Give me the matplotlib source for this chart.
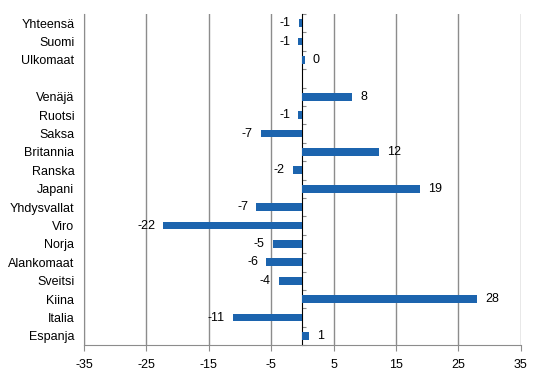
import matplotlib.pyplot as plt
import numpy as np

plt.rcParams["font.family"] = ["Liberation Sans", "DejaVu Sans"]
plt.rcParams["axes.unicode_minus"] = False

# maat ylhäältä alas, tyhjä rivi erottaa yhteenvedon
maat = ["Yhteensä", "Suomi", "Ulkomaat", "", "Venäjä", "Ruotsi", "Saksa",
        "Britannia", "Ranska", "Japani", "Yhdysvallat", "Viro", "Norja",
        "Alankomaat", "Sveitsi", "Kiina", "Italia", "Espanja"]
muutos = [-0.6, -0.7, 0.35, None, 8.0, -0.7, -6.7, 12.2, -1.6, 18.9,
          -7.4, -22.3, -4.8, -5.8, -3.8, 28.0, -11.2, 1.0]
x_ticks = [-35, -25, -15, -5, 5, 15, 25, 35]

grey = "#8c8c8c"
blue = "#1c64ae"
fs = 9

fig = plt.figure(figsize=(5.46, 3.76), dpi=100)
ax = fig.add_axes([0.154, 0.082, 0.800, 0.881])

y = np.arange(len(maat))
vals = [np.nan if v is None else v for v in muutos]
ax.barh(y, vals, height=0.42, color=blue, zorder=3)

for yi, v in zip(y, muutos):
    if v is None:
        continue
    if v >= 0:
        ax.text(v + 1.3, yi, f"{v:.0f}", va="center", ha="left", fontsize=fs)
    else:
        ax.text(v - 1.3, yi, f"{v:.0f}", va="center", ha="right", fontsize=fs)

ax.set_xlim(-35, 35)
ax.set_ylim(len(maat) - 0.5, -0.5)
ax.set_xticks(x_ticks)
ax.set_yticks(y)
ax.set_yticklabels(maat)
ax.tick_params(axis="y", length=0, labelsize=fs, pad=7)
ax.tick_params(axis="x", length=4, color=grey, labelsize=fs, pad=6)

ax.grid(axis="x", color=grey, linewidth=1, zorder=0)
for s in ["top", "right"]:
    ax.spines[s].set_visible(False)
for s in ["left", "bottom"]:
    ax.spines[s].set_color(grey)

# nollakohdan akseli luokkarajojen merkeillä
zero_ax = ax.secondary_yaxis(0.5)
zero_ax.spines["left"].set_color(grey)
zero_ax.set_yticks(np.arange(len(maat) + 1) - 0.5)
zero_ax.set_yticklabels([])
zero_ax.tick_params(axis="y", length=3, color=grey, direction="out")

fig.savefig("out.png", dpi=100)
